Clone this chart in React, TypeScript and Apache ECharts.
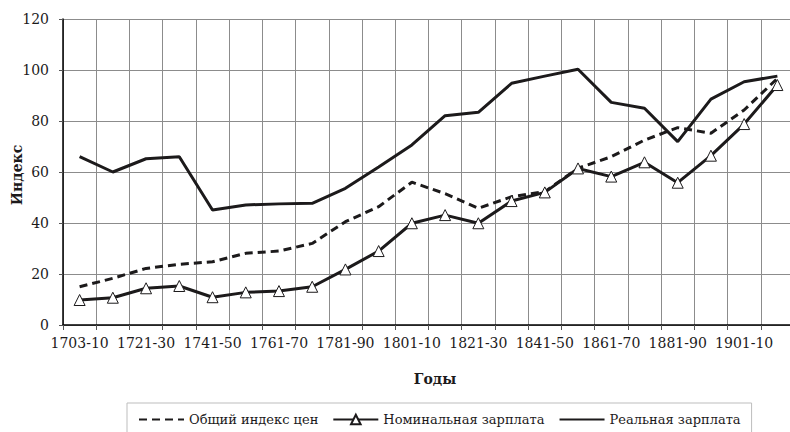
import React, { useEffect, useRef } from "react";
import * as echarts from "echarts";

const categories = [
  "1703-10", "1711-20", "1721-30", "1731-40", "1741-50", "1751-60",
  "1761-70", "1771-80", "1781-90", "1791-1800", "1801-10", "1811-20",
  "1821-30", "1831-40", "1841-50", "1851-60", "1861-70", "1871-80",
  "1881-90", "1891-1900", "1901-10", "1911-14",
];

const priceIndex = [
  15.0, 18.3, 22.2, 23.8, 24.8, 28.1, 29.0, 32.0, 40.5, 46.4, 56.0, 51.5,
  45.8, 50.3, 52.3, 61.5, 66.0, 72.5, 77.4, 75.2, 84.3, 96.7,
];

const nominalWage = [
  9.8, 10.7, 14.4, 15.3, 10.9, 12.8, 13.3, 15.0, 21.8, 29.0, 39.9, 43.1,
  39.9, 48.6, 52.0, 61.4, 58.2, 63.8, 55.8, 66.4, 78.8, 94.1,
];

const realWage = [
  66.0, 60.0, 65.2, 66.0, 45.1, 47.1, 47.5, 47.7, 53.6, 62.0, 70.6, 82.1,
  83.4, 94.8, 97.6, 100.3, 87.3, 85.0, 71.9, 88.6, 95.4, 97.6,
];

const seriesNames = ["Общий индекс цен", "Номинальная зарплата", "Реальная зарплата"];
const yAxisTitle = "Индекс";
const xAxisTitle = "Годы";

const FONT = "DejaVu Serif";
const INK = "#1c1a1b";

export default function App() {
  const ref = useRef<HTMLDivElement>(null);

  useEffect(() => {
    document.body.style.margin = "0";
    const chart = echarts.init(ref.current!, null, { renderer: "svg" });
    chart.setOption({
      animation: false,
      backgroundColor: "#ffffff",
      textStyle: { fontFamily: FONT, color: INK },
      grid: {
        left: 63,
        top: 19,
        width: 731,
        height: 306,
        containLabel: false,
        outerBoundsMode: "none",
      },
      legend: {
        left: 127,
        top: 403,
        padding: [10, 11],
        itemWidth: 45,
        itemHeight: 12,
        itemGap: 14,
        borderColor: "#bdbdbd",
        borderWidth: 1,
        textStyle: { fontFamily: FONT, fontSize: 13, color: INK },
        data: [
          { name: seriesNames[0], itemStyle: { opacity: 0 } },
          { name: seriesNames[1] },
          { name: seriesNames[2], itemStyle: { opacity: 0 } },
        ],
      },
      xAxis: {
        type: "category",
        data: categories,
        boundaryGap: true,
        axisLine: { show: true, lineStyle: { color: "#000", width: 1.5 } },
        axisTick: { show: true, interval: 0, length: 5, lineStyle: { color: "#555" } },
        axisLabel: {
          interval: 1,
          margin: 11,
          fontFamily: FONT,
          fontSize: 14,
          color: INK,
        },
        splitLine: { show: true, interval: 0, lineStyle: { color: "#8c8c8c", width: 1 } },
      },
      yAxis: {
        type: "value",
        min: 0,
        max: 120,
        interval: 20,
        axisLine: { show: true, lineStyle: { color: "#000", width: 1.5 } },
        axisTick: { show: true, length: 4, lineStyle: { color: "#555" } },
        axisLabel: {
          margin: 14,
          fontFamily: FONT,
          fontSize: 14,
          color: INK,
        },
        splitLine: { show: true, lineStyle: { color: "#8c8c8c", width: 1 } },
      },
      graphic: [
        {
          type: "text",
          x: 17,
          y: 175,
          rotation: Math.PI / 2,
          style: {
            text: yAxisTitle,
            fontFamily: FONT,
            fontSize: 14,
            fontWeight: "bold",
            fill: INK,
            textAlign: "center",
            textVerticalAlign: "middle",
          },
        },
        {
          type: "text",
          x: 435,
          y: 379,
          style: {
            text: xAxisTitle,
            fontFamily: FONT,
            fontSize: 14,
            fontWeight: "bold",
            fill: INK,
            textAlign: "center",
            textVerticalAlign: "middle",
          },
        },
      ],
      series: [
        {
          name: seriesNames[0],
          type: "line",
          data: priceIndex,
          symbol: "none",
          lineStyle: { color: INK, width: 3, type: [8, 5] },
          itemStyle: { color: INK },
          z: 2,
        },
        {
          name: seriesNames[2],
          type: "line",
          data: realWage,
          symbol: "none",
          lineStyle: { color: INK, width: 3 },
          itemStyle: { color: INK },
          z: 3,
        },
        {
          name: seriesNames[1],
          type: "line",
          data: nominalWage,
          symbol: "triangle",
          symbolSize: 11,
          showSymbol: true,
          lineStyle: { color: INK, width: 3 },
          itemStyle: { color: "#ffffff", borderColor: INK, borderWidth: 1 },
          z: 4,
        },
      ],
    });
    return () => chart.dispose();
  }, []);

  return <div ref={ref} style={{ width: 790, height: 432 }} />;
}
